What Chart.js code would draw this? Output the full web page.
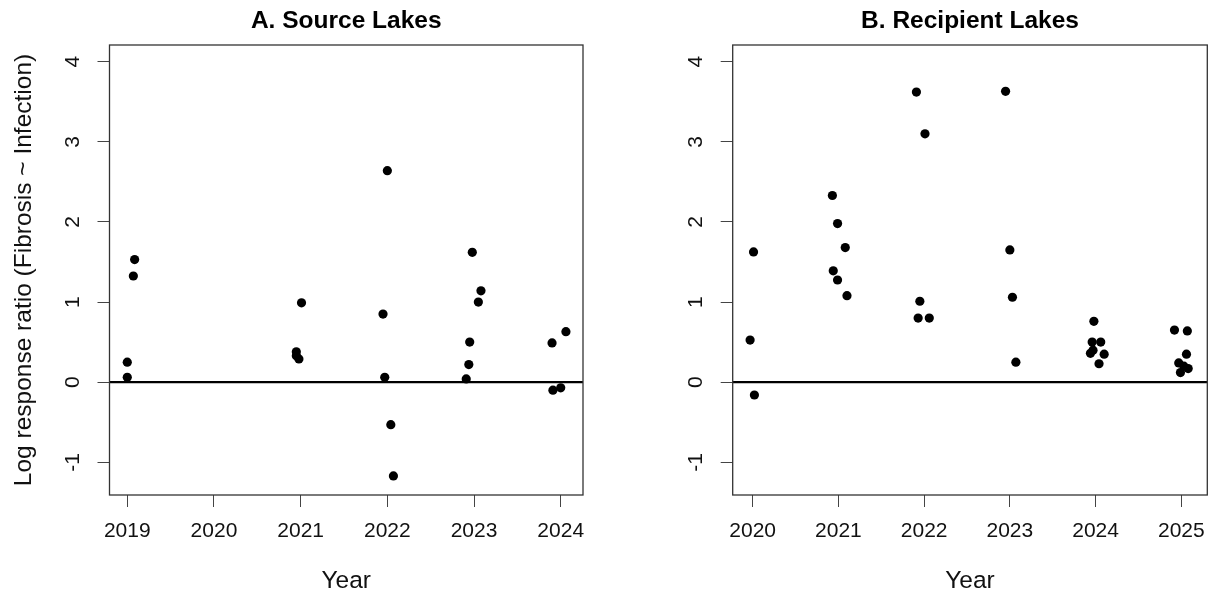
<!DOCTYPE html>
<html>
<head>
<meta charset="utf-8">
<script src="https://cdn.jsdelivr.net/npm/chart.js@4/dist/chart.umd.min.js"></script>
<style>
  body { margin: 0; background: #fff; }
  .panel { position: absolute; top: 0; width: 606px; height: 598px; }
</style>
</head>
<body>
<div class="panel" style="left:0"><canvas id="source" width="606" height="598"></canvas></div>
<div class="panel" style="left:606px"><canvas id="recipient" width="606" height="598"></canvas></div>
<script>
// jittered sampling year and log response ratio for each lake group
const sourceYear = [2019.085, 2019.07, 2019.0, 2019.0,
  2021.01, 2020.95, 2020.95, 2020.98,
  2022.0, 2021.95, 2021.97, 2022.04, 2022.07,
  2022.98, 2023.08, 2023.05, 2022.95, 2022.94, 2022.91,
  2023.9, 2024.06, 2023.91, 2024.0]
const sourceLRR = [1.53, 1.325, 0.25, 0.06,
  0.99, 0.38, 0.33, 0.29,
  2.64, 0.85, 0.06, -0.53, -1.17,
  1.62, 1.14, 1.0, 0.5, 0.22, 0.04,
  0.49, 0.63, -0.1, -0.07]

const recipientYear = [2020.01, 2019.97, 2020.02,
  2020.93, 2020.99, 2021.08, 2020.94, 2020.99, 2021.1,
  2021.91, 2022.01, 2021.95, 2021.93, 2022.06,
  2022.95, 2023.0, 2023.03, 2023.07,
  2023.98, 2023.96, 2024.06, 2023.97, 2023.94, 2024.1, 2024.04,
  2024.92, 2025.07, 2025.06, 2024.97, 2025.03, 2025.08, 2024.99]
const recipientLRR = [1.625, 0.525, -0.16,
  2.33, 1.98, 1.68, 1.39, 1.275, 1.08,
  3.62, 3.1, 1.01, 0.8, 0.8,
  3.63, 1.65, 1.06, 0.25,
  0.76, 0.5, 0.5, 0.4, 0.36, 0.35, 0.23,
  0.65, 0.64, 0.35, 0.24, 0.2, 0.17, 0.12]

const sourceTicks = [2019, 2020, 2021, 2022, 2023, 2024]
const recipientTicks = [2020, 2021, 2022, 2023, 2024, 2025]
const lrrTicks = [-1, 0, 1, 2, 3, 4]

const FONT = "'Liberation Sans', Arial, sans-serif"

// box around the plot region plus the zero reference line
const framePlugin = {
  id: 'frame',
  beforeDatasetsDraw(chart) {
    const { ctx, chartArea: a, scales: { y } } = chart
    const y0 = y.getPixelForValue(0)
    ctx.save()
    ctx.strokeStyle = '#000'
    ctx.lineWidth = 2.2
    ctx.beginPath()
    ctx.moveTo(a.left, y0)
    ctx.lineTo(a.right, y0)
    ctx.stroke()
    ctx.restore()
  },
  afterDraw(chart) {
    const { ctx, chartArea: a } = chart
    ctx.save()
    ctx.strokeStyle = '#333'
    ctx.lineWidth = 1.3
    ctx.strokeRect(a.left, a.top, a.right - a.left, a.bottom - a.top)
    ctx.restore()
  }
}

const makePanel = (id, title, years, values, yearTicks, xMin, xMax, yAxisWidth, padRight, showYTitle) => {
  const points = years.map((x, i) => ({ x: x, y: values[i] }))
  return new Chart(document.getElementById(id), {
    type: 'scatter',
    data: {
      datasets: [{
        data: points,
        backgroundColor: '#000',
        borderWidth: 0,
        pointRadius: 4.6,
        pointHoverRadius: 4.6
      }]
    },
    options: {
      responsive: false,
      animation: false,
      layout: { padding: { left: 0, right: padRight, top: 0, bottom: 0 } },
      plugins: {
        legend: { display: false },
        tooltip: { enabled: false },
        title: {
          display: true,
          text: title,
          fullSize: false,
          color: '#000',
          font: { family: FONT, size: 24.5, weight: 'bold', lineHeight: 1.2 },
          padding: { top: 6.6, bottom: 9 }
        }
      },
      scales: {
        x: {
          type: 'linear',
          min: xMin,
          max: xMax,
          afterBuildTicks: s => { s.ticks = yearTicks.map(v => ({ value: v })) },
          afterFit: s => {
            s.height = 103
            s.paddingLeft = 0
            s.paddingRight = 0
          },
          border: { display: false },
          grid: { drawOnChartArea: false, drawTicks: true, tickLength: 12, color: '#444' },
          ticks: {
            color: '#111',
            padding: 12,
            maxRotation: 0,
            font: { family: FONT, size: 21, lineHeight: 1.2 },
            callback: v => String(v)
          },
          title: {
            display: true,
            text: 'Year',
            color: '#111',
            font: { family: FONT, size: 24.5, lineHeight: 1.2 },
            padding: { top: 0, bottom: 2.3 }
          }
        },
        y: {
          min: -1.408,
          max: 4.208,
          afterBuildTicks: s => { s.ticks = lrrTicks.map(v => ({ value: v })) },
          afterFit: s => {
            s.width = yAxisWidth
            s.paddingTop = 0
            s.paddingBottom = 0
          },
          border: { display: false },
          grid: { drawOnChartArea: false, drawTicks: true, tickLength: 12, color: '#444' },
          ticks: {
            color: '#111',
            padding: 14.7,
            minRotation: 90,
            maxRotation: 90,
            crossAlign: 'center',
            font: { family: FONT, size: 21, lineHeight: 1.2 },
            callback: v => String(v)
          },
          title: {
            display: showYTitle,
            text: 'Log response ratio (Fibrosis ~ Infection)',
            color: '#111',
            font: { family: FONT, size: 24.5, lineHeight: 1.2 },
            padding: { top: 10, bottom: 0 }
          }
        }
      }
    },
    plugins: [framePlugin]
  })
}

makePanel('source', 'A. Source Lakes', sourceYear, sourceLRR, sourceTicks,
  2018.795, 2024.257, 109.5, 23, true)
makePanel('recipient', 'B. Recipient Lakes', recipientYear, recipientLRR, recipientTicks,
  2019.767, 2025.303, 126.7, 4.7, false)
</script>
</body>
</html>
